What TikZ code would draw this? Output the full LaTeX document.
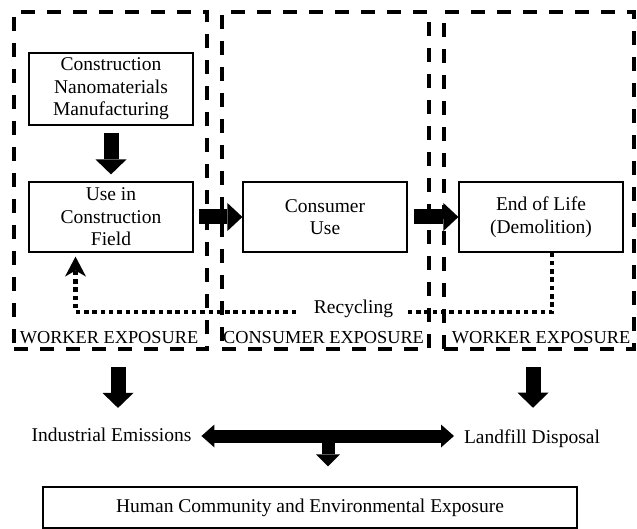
\documentclass[tikz,border=0pt]{standalone}
\usepackage{fontspec}
\setmainfont{Liberation Serif}
\usetikzlibrary{arrows.meta,calc}
\newcommand\mainfs{\fontsize{19.5pt}{22.5pt}\selectfont}
\newcommand\expfs{\fontsize{18.3pt}{21pt}\selectfont}
\begin{document}
\begin{tikzpicture}[x=1pt,y=-1pt,
  region/.style={draw, line width=3.5pt, dash pattern=on 14pt off 12pt, inner sep=0pt},
  box/.style={draw, line width=1.2pt, align=center, inner sep=0pt, font=\mainfs, minimum width=164pt, minimum height=70pt},
  explabel/.style={font=\expfs, inner sep=0pt, anchor=base},
  txt/.style={font=\mainfs, anchor=base},
  bigarrow/.style={line width=15pt, -{Triangle[length=15pt,width=31pt,line width=0pt]}},
  sidearrow/.style={line width=15pt, -{Triangle[length=15pt,width=28pt,line width=0pt]}},
  dblarrow/.style={line width=13pt, {Triangle[length=13pt,width=23pt,line width=0pt]}-{Triangle[length=13pt,width=23pt,line width=0pt]}},
  smallarrow/.style={line width=13pt, -{Triangle[length=12pt,width=24pt,line width=0pt]}},
  recyc/.style={line width=4.5pt, dash pattern=on 4.5pt off 3.8pt, -{Stealth[length=20pt,width=21pt,inset=6pt,line width=0pt]}}
]
\useasboundingbox (0,0) rectangle (637,529);

% exposure regions
\node[region, minimum width=193pt, minimum height=337pt] (r1) at (110.5,180.5) {};
\node[region, minimum width=207pt, minimum height=337pt] (r2) at (325.5,180.5) {};
\node[region, minimum width=190pt, minimum height=337pt] (r3) at (539,180.5) {};

\node[explabel] (l1) at (109,343) {WORKER EXPOSURE};
\node[explabel] (l2) at (323.5,343) {CONSUMER EXPOSURE};
\node[explabel] (l3) at (541,343) {WORKER EXPOSURE};

% process boxes
\node[box, minimum height=72pt] (mfg) at (111,89) {Construction\\Nanomaterials\\Manufacturing};
\node[box] (use) at (111,217) {Use in\\Construction\\Field};
\node[box] (cons) at (325,217) {\raisebox{-3pt}{\parbox{150pt}{\centering Consumer\\Use}}};
\node[box] (eol) at (541,217) {\raisebox{-3pt}{\parbox{150pt}{\centering End of Life\\(Demolition)}}};

% block arrows between boxes
\draw[bigarrow, shorten <=7pt, shorten >=7pt] (mfg.south) -- (use.north);
\draw[sidearrow, shorten <=5pt] (use.east) -- (cons.west);
\draw[sidearrow, shorten <=6pt] (cons.east) -- (eol.west);

% recycling loop
\coordinate (rr) at (552,312);
\coordinate (rc) at (75.5,312);
\draw[recyc, shorten >=4pt] (eol.south -| rr) -- (rr) -- (rc) -- (use.south -| rc);
\node[fill=white, font=\mainfs, anchor=base, inner xsep=14.5pt, inner ysep=2pt] (rec) at (353.5,313) {Recycling};

% outputs
\node[txt] (ind) at (111.5,441) {Industrial Emissions};
\node[txt] (land) at (532,443) {Landfill Disposal};
\coordinate (d1) at (118,0);
\coordinate (d2) at (533,0);
\draw[bigarrow, shorten <=16pt, shorten >=16pt] (r1.south -| d1) -- (ind.north -| d1);
\draw[bigarrow, shorten <=16pt, shorten >=18pt] (r3.south -| d2) -- (land.north -| d2);

\coordinate (mid) at (328,436);
\draw[dblarrow, shorten <=6.5pt, shorten >=6.5pt] (ind.east |- mid) -- (land.west |- mid);

\node[draw, line width=1.2pt, font=\mainfs, minimum width=534pt, minimum height=41pt, inner sep=0pt] (bot) at (310,507.5) {Human Community and Environmental Exposure};
\draw[smallarrow, shorten >=20pt] (mid) -- (bot.north -| mid);
\end{tikzpicture}
\end{document}
